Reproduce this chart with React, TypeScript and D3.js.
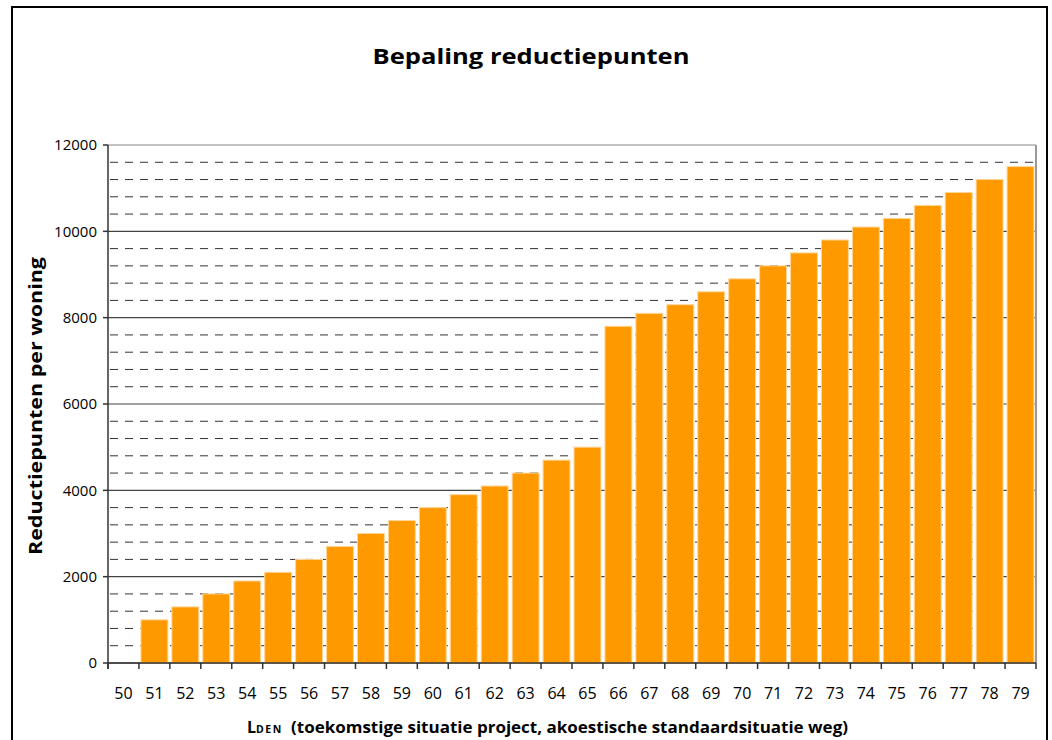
import React from "react";
import * as d3 from "d3";

// x categories (L_den) and the reduction points per dwelling
const categories = ["50", "51", "52", "53", "54", "55", "56", "57", "58", "59", "60", "61", "62", "63", "64", "65", "66", "67", "68", "69", "70", "71", "72", "73", "74", "75", "76", "77", "78", "79"];
const values = [0, 1000, 1300, 1600, 1900, 2100, 2400, 2700, 3000, 3300, 3600, 3900, 4100, 4400, 4700, 5000, 7800, 8100, 8300, 8600, 8900, 9200, 9500, 9800, 10100, 10300, 10600, 10900, 11200, 11500];
const yTicks = [0, 2000, 4000, 6000, 8000, 10000, 12000];

const W = 1052, H = 740;
const margin = { top: 145, right: 16, bottom: 77, left: 108 };
const font = "'Open Sans', 'Liberation Sans', sans-serif";

export default function App() {
    const x = d3.scaleBand().domain(categories).range([margin.left, W - margin.right]).paddingInner(0.13).paddingOuter(0.065);
    const y = d3.scaleLinear().domain([0, 12000]).range([H - margin.bottom, margin.top]);
    const minor = d3.range(400, 12000, 400).filter(v => v % 2000 !== 0);
    const x0 = margin.left, x1 = W - margin.right;
    const bounds = d3.range(categories.length + 1).map(i => x0 + i * (x1 - x0) / categories.length);

    return (
        <svg width={W} height={H} style={{ position: "absolute", left: 0, top: 0, background: "#fff" }}>
            <rect x={12} y={7} width={1035} height={740} fill="none" stroke="#000" strokeWidth={2} />
            <text x={531} y={64} textAnchor="middle" fontFamily={font} fontWeight="bold" fontSize={21}
                textLength={317} lengthAdjust="spacingAndGlyphs">Bepaling reductiepunten</text>

            {/* minor dashed grid */}
            {minor.map(v => (
                <line key={"m" + v} x1={x0 + 2} x2={x1} y1={y(v)} y2={y(v)} stroke="#333" strokeWidth={1} strokeDasharray="8,7" />
            ))}
            {/* major grid */}
            {yTicks.map(v => (
                <line key={"g" + v} x1={x0} x2={x1} y1={y(v)} y2={y(v)} stroke={v === 12000 ? "#888" : "#444"} strokeWidth={1.2} />
            ))}
            <line x1={x1} x2={x1} y1={y(12000)} y2={y(0)} stroke="#999" strokeWidth={2} />

            {/* bars */}
            {values.map((v, i) => v > 0 && (
                <rect key={i} x={x(categories[i])} y={y(v)} width={x.bandwidth()} height={y(0) - y(v)}
                    fill="#FF9900" stroke="#FFD699" strokeWidth={1} />
            ))}

            {/* y axis */}
            <line x1={x0} x2={x0} y1={y(12000)} y2={y(0) + 6} stroke="#333" strokeWidth={1.5} />
            {yTicks.map(v => (
                <g key={"t" + v}>
                    <line x1={x0 - 5} x2={x0} y1={y(v)} y2={y(v)} stroke="#333" strokeWidth={1.5} />
                    <text x={97} y={y(v)} dy="0.35em" textAnchor="end" fontFamily={font} fontSize={15}>{v}</text>
                </g>
            ))}

            {/* x axis */}
            <line x1={x0} x2={x1} y1={y(0)} y2={y(0)} stroke="#333" strokeWidth={1.5} />
            {bounds.map((bx, i) => (
                <line key={"xt" + i} x1={bx} x2={bx} y1={y(0)} y2={y(0) + 6} stroke="#333" strokeWidth={1.5} />
            ))}
            {categories.map(c => (
                <text key={"xl" + c} x={(x(c) ?? 0) + x.bandwidth() / 2} y={693} dy="0.35em" textAnchor="middle"
                    fontFamily={font} fontSize={16}>{c}</text>
            ))}

            <text x={247} y={733} fontFamily={font} fontWeight="bold" fontSize={16}>
                <tspan>L</tspan>
                <tspan fontSize={10.5} letterSpacing={1.5}>DEN</tspan>
            </text>
            <text x={291} y={733} fontFamily={font} fontWeight="bold" fontSize={16}
                textLength={557} lengthAdjust="spacingAndGlyphs">(toekomstige situatie project, akoestische standaardsituatie weg)</text>

            <text transform={`translate(42,${(y(0) + y(12000)) / 2 + 2}) rotate(-90)`} textAnchor="middle"
                fontFamily={font} fontWeight="bold" fontSize={17} textLength={298} lengthAdjust="spacingAndGlyphs">
                Reductiepunten per woning
            </text>
        </svg>
    );
}
